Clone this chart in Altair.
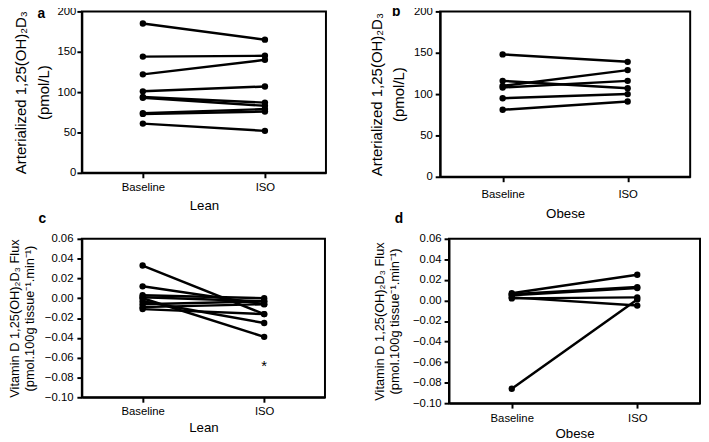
import altair as alt
import pandas as pd

conditions = ["Baseline", "ISO"]

# Panel a: Lean, arterialized 1,25(OH)2D3 (pmol/L)
lean_baseline = [185, 144, 122, 101, 94, 93, 74, 73, 61]
lean_iso = [165, 145, 140, 107, 87, 83, 79, 76, 52]

# Panel b: Obese, arterialized 1,25(OH)2D3 (pmol/L)
obese_baseline = [148, 116, 110, 108, 95, 81]
obese_iso = [139, 107, 129, 116, 100, 91]

# Panel c: Lean, flux
lean_flux_baseline = [0.033, 0.012, 0.003, 0.001, 0.000, -0.003, -0.006, -0.009, -0.011]
lean_flux_iso = [-0.016, -0.006, 0.000, -0.003, -0.039, -0.025, -0.003, -0.006, -0.016]

# Panel d: Obese, flux
obese_flux_baseline = [0.007, 0.006, 0.005, 0.003, 0.002, -0.086]
obese_flux_iso = [0.025, 0.013, 0.012, -0.005, 0.003, 0.001]

conc_ticks = [0, 50, 100, 150, 200]
flux_ticks = [-0.10, -0.08, -0.06, -0.04, -0.02, 0.0, 0.02, 0.04, 0.06]

star_condition = ["ISO"]
star_value = [-0.065]

FONT = "Liberation Sans"

conc_title = ["Arterialized 1,25(OH)\u2082D\u2083", "(pmol/L)"]
flux_title = ["Vitamin D 1,25(OH)\u2082D\u2083 Flux", "(pmol.100g tissue\u207b\u00b9.min\u207b\u00b9)"]


def long_df(base, iso):
    rows = []
    for i, (b, s) in enumerate(zip(base, iso)):
        rows.append({"subject": i, "condition": "Baseline", "value": b})
        rows.append({"subject": i, "condition": "ISO", "value": s})
    return pd.DataFrame(rows)


def panel(df, w, h, letter, lx, ly, ydomain, yvalues, yfmt, ytitle, ytsize, ytlh,
          ext, ytp, ylp, xtitle, xlp, xtp, star=False):
    x = alt.X("condition:N", sort=conditions,
              scale=alt.Scale(type="point", padding=0.5, domain=conditions),
              axis=alt.Axis(title=xtitle, labelAngle=0, labelPadding=xlp,
                            titlePadding=xtp, tickSize=5, labelFontSize=11.5,
                            titleFontSize=13.5))
    y = alt.Y("value:Q", scale=alt.Scale(domain=ydomain, nice=False, zero=False),
              axis=alt.Axis(values=yvalues, format=yfmt, title=ytitle,
                            titleFontSize=ytsize, titleLineHeight=ytlh,
                            titleLimit=500, labelOverlap=False,
                            minExtent=ext, maxExtent=ext, titlePadding=ytp,
                            labelPadding=ylp, tickSize=5, labelFontSize=11.5))
    base = alt.Chart(df)
    lines = base.mark_line(color="black", strokeWidth=2.5).encode(
        x=x, y=y, detail="subject:N")
    pts = base.mark_circle(color="black", opacity=1, size=42).encode(x=x, y=y)
    lab = alt.Chart(pd.DataFrame({"t": [letter]})).mark_text(
        font=FONT, fontWeight="bold", fontSize=14, align="left",
        baseline="alphabetic", color="black").encode(
        x=alt.value(lx), y=alt.value(ly), text="t:N")
    layers = [lines, pts, lab]
    if star:
        star_df = pd.DataFrame({"condition": star_condition, "value": star_value,
                                "t": ["*"]})
        layers.append(alt.Chart(star_df).mark_text(
            font=FONT, fontSize=15, baseline="middle", dy=4, color="black").encode(
            x=x, y=y, text="t:N"))
    return alt.layer(*layers).properties(width=w, height=h)


pa = panel(long_df(lean_baseline, lean_iso), 248, 164, "a", -45, 7,
           [0, 200], conc_ticks, "d", conc_title, 15.2, 23, 26, 5, 1, "Lean", 4, 6)
pb = panel(long_df(obese_baseline, obese_iso), 254, 168, "b", -49, 5,
           [0, 200], conc_ticks, "d", conc_title, 15.2, 23, 31, 3, 3, "Obese", 7, 7)
pc = panel(long_df(lean_flux_baseline, lean_flux_iso), 247, 161, "c", -44, -16,
           [-0.10, 0.06], flux_ticks, ".2f", flux_title, 13, 15, 39, 7, 4, "Lean", 3, 4,
           star=True)
pd_ = panel(long_df(obese_flux_baseline, obese_flux_iso), 255, 167, "d", -55, -16,
            [-0.10, 0.06], flux_ticks, ".2f", flux_title, 13, 16, 36, 12, 3, "Obese", 5, 2)

row1 = alt.hconcat(pa, pb, spacing=42)
row2 = alt.hconcat(pc, pd_, spacing=47)

chart = alt.vconcat(row1, row2, spacing=-10).properties(
    padding={"left": 0, "top": -7, "right": 0, "bottom": 0},
    background="white"
).configure_view(
    stroke="black", strokeWidth=2
).configure_axis(
    domainColor="black", domainWidth=2, tickColor="black", tickWidth=2,
    labelColor="black", titleColor="black", labelFont=FONT, titleFont=FONT,
    titleFontWeight="normal", grid=False
)

chart.save("out.html", embed_options={"renderer": "svg", "actions": False})
